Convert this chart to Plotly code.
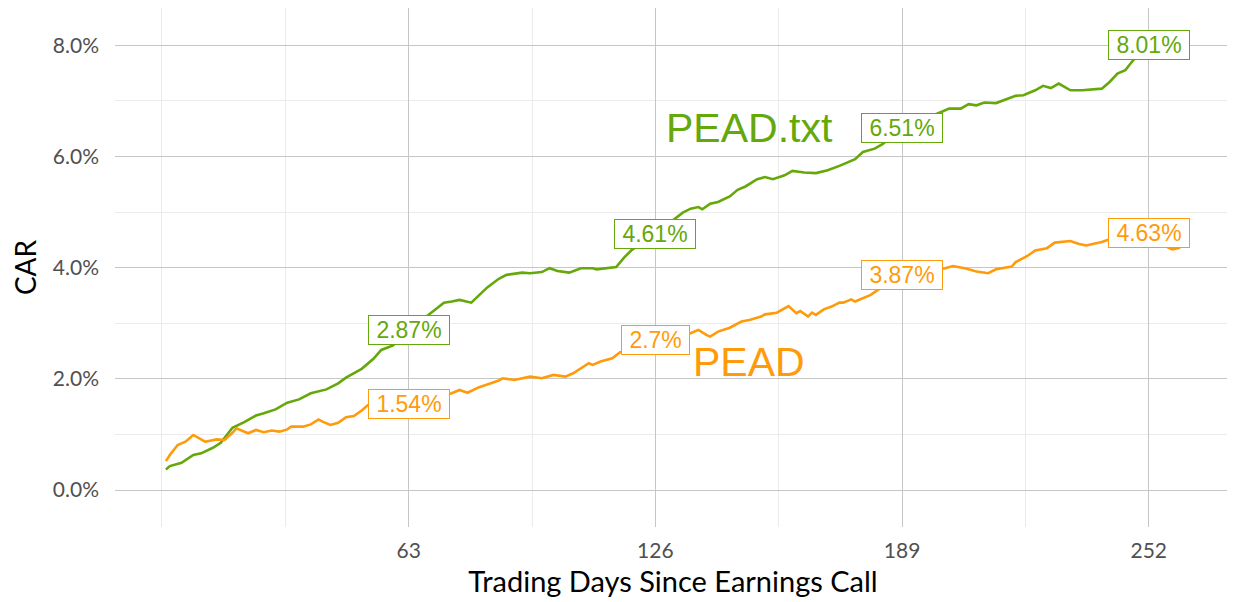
import plotly.graph_objects as go

# ---------------- data ----------------
days_txt = [1, 2, 5, 8, 10, 13, 15, 18, 21, 24, 26, 29, 32, 35, 38, 42, 45, 47, 51, 54, 56, 59,
            63, 68, 72, 74, 76, 79, 81, 83, 86, 88, 92, 94, 97, 99, 101, 104, 107, 110, 111, 116,
            118, 120, 126, 131, 133, 135, 137, 138, 140, 142, 145, 147, 149, 152, 154, 156, 159,
            161, 164, 167, 170, 173, 177, 179, 182, 184, 189, 199, 201, 204, 206, 208, 210, 213,
            216, 218, 220, 223, 225, 227, 229, 232, 235, 240, 242, 244, 246, 248, 252]
car_txt = [0.37, 0.43, 0.49, 0.63, 0.66, 0.76, 0.85, 1.12, 1.22, 1.34, 1.38, 1.45, 1.57, 1.63,
           1.74, 1.81, 1.92, 2.02, 2.18, 2.36, 2.52, 2.60,
           2.87, 3.15, 3.37, 3.39, 3.42, 3.37, 3.50, 3.64, 3.80, 3.87, 3.91, 3.90, 3.92, 3.99,
           3.94, 3.91, 3.99, 3.99, 3.97, 4.01, 4.18, 4.32,
           4.61, 4.88, 4.99, 5.06, 5.09, 5.05, 5.15, 5.18, 5.28, 5.40, 5.46, 5.59, 5.63, 5.59,
           5.66, 5.74, 5.71, 5.70, 5.75, 5.83, 5.95, 6.08, 6.14, 6.22,
           6.51, 6.80, 6.86, 6.86, 6.94, 6.92, 6.97, 6.96, 7.04, 7.09, 7.10, 7.19, 7.27, 7.23,
           7.31, 7.19, 7.19, 7.22, 7.34, 7.49, 7.55, 7.73, 8.01]

days_pead = [1, 2, 4, 6, 8, 11, 14, 16, 18, 19, 22, 24, 26, 28, 30, 32, 33, 36, 38, 40, 41, 43,
             45, 47, 49, 51, 53, 63, 74, 76, 78, 81, 84, 86, 87, 90, 94, 97, 100, 103, 105, 107,
             109, 110, 112, 115, 117, 119, 126, 135, 137, 139, 140, 142, 145, 148, 150, 153, 154,
             157, 159, 160, 162, 163, 165, 166, 167, 169, 171, 173, 174, 176, 177, 179, 181, 183,
             189, 200, 202, 205, 208, 211, 213, 217, 218, 221, 223, 226, 228, 232, 234, 236, 238,
             240, 242, 252, 257, 258, 260]
car_pead = [0.52, 0.63, 0.81, 0.87, 0.99, 0.87, 0.91, 0.90, 1.03, 1.11, 1.02, 1.08, 1.04, 1.07,
            1.05, 1.09, 1.14, 1.14, 1.18, 1.27, 1.23, 1.17, 1.21, 1.31, 1.33, 1.43, 1.55,
            1.54, 1.74, 1.80, 1.75, 1.85, 1.92, 1.97, 2.01, 1.98, 2.04, 2.01, 2.07, 2.04, 2.10,
            2.19, 2.28, 2.25, 2.31, 2.37, 2.48, 2.49,
            2.70, 2.82, 2.88, 2.79, 2.76, 2.85, 2.92, 3.03, 3.06, 3.12, 3.16, 3.19, 3.27, 3.31,
            3.18, 3.22, 3.12, 3.19, 3.15, 3.25, 3.30, 3.37, 3.37, 3.43, 3.39, 3.45, 3.51, 3.61,
            3.87, 3.99, 4.03, 3.99, 3.93, 3.90, 3.97, 4.02, 4.10, 4.21, 4.31, 4.35, 4.45, 4.48,
            4.43, 4.40, 4.43, 4.46, 4.51, 4.63, 4.36, 4.33, 4.36]

label_days = [63, 126, 189, 252]
label_txt = [2.87, 4.61, 6.51, 8.01]
label_pead = [1.54, 2.70, 3.87, 4.63]
label_txt_text = ["2.87%", "4.61%", "6.51%", "8.01%"]
label_pead_text = ["1.54%", "2.7%", "3.87%", "4.63%"]

x_major = [63, 126, 189, 252]
x_minor = [0, 31.5, 94.5, 157.5, 220.5]
y_major = [0, 2, 4, 6, 8]
y_minor = [1, 3, 5, 7]

GREEN = "#64a80a"
ORANGE = "#ff9b0a"
TICK_FONT = "Lato, 'Open Sans', sans-serif"
LABEL_FONT = "Arial, 'Liberation Sans', sans-serif"

fig = go.Figure()
fig.add_trace(go.Scatter(x=days_txt, y=car_txt, mode="lines", name="PEAD.txt",
                         line=dict(color=GREEN, width=2.6), showlegend=False))
fig.add_trace(go.Scatter(x=days_pead, y=car_pead, mode="lines", name="PEAD",
                         line=dict(color=ORANGE, width=2.6), showlegend=False))

annotations = []
for d, v, t in zip(label_days, label_txt, label_txt_text):
    annotations.append(dict(x=d, y=v, xref="x", yref="y", text="\u00a0" + t + "\u00a0",
                            showarrow=False, xanchor="center", yanchor="middle",
                            font=dict(family=LABEL_FONT, size=23, color=GREEN),
                            bgcolor="white", bordercolor=GREEN, borderwidth=1, borderpad=1))
for d, v, t in zip(label_days, label_pead, label_pead_text):
    annotations.append(dict(x=d, y=v, xref="x", yref="y", text="\u00a0" + t + "\u00a0",
                            showarrow=False, xanchor="center", yanchor="middle",
                            font=dict(family=LABEL_FONT, size=23, color=ORANGE),
                            bgcolor="white", bordercolor=ORANGE, borderwidth=1, borderpad=1))
annotations.append(dict(x=150, y=6.51, xref="x", yref="y", text="PEAD.txt", showarrow=False,
                        xanchor="center", yanchor="middle",
                        font=dict(family=LABEL_FONT, size=41, color=GREEN)))
annotations.append(dict(x=150, y=2.30, xref="x", yref="y", text="PEAD", showarrow=False,
                        xanchor="center", yanchor="middle",
                        font=dict(family=LABEL_FONT, size=41, color=ORANGE)))

# The page body has an 8px margin, so the figure is sized to fit the window.
fig.update_layout(
    width=1227, height=594,
    margin=dict(l=107, r=4, t=0, b=75),
    paper_bgcolor="white", plot_bgcolor="white",
    annotations=annotations,
    xaxis=dict(range=[-12, 273], tickmode="array", tickvals=x_major,
               ticktext=[str(v) for v in x_major], automargin=False,
               showgrid=True, gridcolor="#c6c6c6", gridwidth=1.2,
               zeroline=False, showline=False, ticks="",
               ticklabelstandoff=9,
               tickfont=dict(family=TICK_FONT, size=21, color="#505050"),
               minor=dict(tickmode="array", tickvals=x_minor, showgrid=True,
                          gridcolor="#ebebeb", gridwidth=1),
               title=dict(text="Trading Days Since Earnings Call", standoff=10,
                          font=dict(family=TICK_FONT, size=29, color="black"))),
    yaxis=dict(range=[-0.665, 8.67], tickmode="array", tickvals=y_major,
               ticktext=[f"{v:.1f}%" for v in y_major], automargin=False,
               showgrid=True, gridcolor="#c6c6c6", gridwidth=1.2,
               zeroline=False, showline=False, ticks="",
               ticklabelstandoff=15,
               tickfont=dict(family=TICK_FONT, size=21, color="#505050"),
               minor=dict(tickmode="array", tickvals=y_minor, showgrid=True,
                          gridcolor="#ebebeb", gridwidth=1),
               title=dict(text="CAR", standoff=10,
                          font=dict(family=TICK_FONT, size=28, color="black"))),
)

fig.write_html("out.html")
